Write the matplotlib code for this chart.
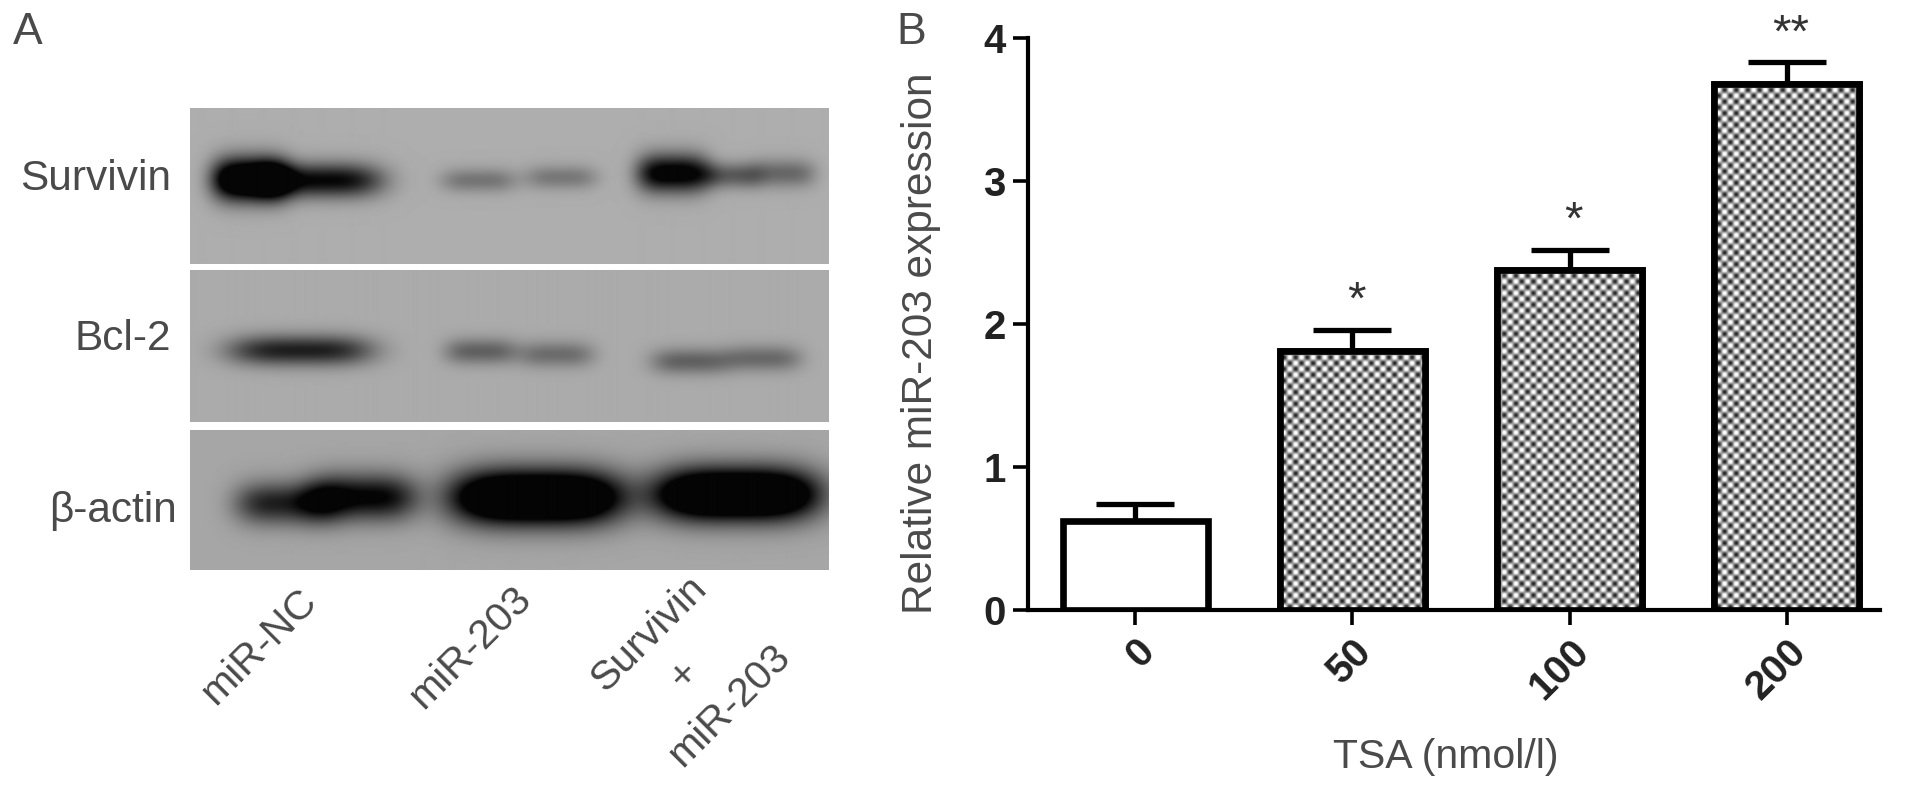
import numpy as np
import matplotlib
matplotlib.use('Agg')
import matplotlib.pyplot as plt

plt.rcParams['font.family'] = ['Liberation Sans', 'DejaVu Sans']

W, H = 1913, 791

# panel B
doses = ['0', '50', '100', '200']
expression = [0.62, 1.81, 2.38, 3.68]
errors = [0.12, 0.15, 0.14, 0.15]
stars = ['', '*', '*', '**']
y_ticks = [0, 1, 2, 3, 4]

# panel A: blots as (top, bottom, background grey)
blots = [(108, 264, 0.68), (270, 422, 0.67), (430, 570, 0.65)]
blot_names = ['Survivin', 'Bcl-2', 'β-actin']
# bands as (x centre, y centre, half width, half height, strength)
bands = [
    (250, 179, 38, 21, 1.6), (320, 180, 62, 17, 1.0),
    (478, 180, 38, 12, 0.34), (560, 177, 36, 12, 0.32),
    (672, 173, 36, 19, 1.15), (730, 175, 30, 13, 0.5), (782, 173, 32, 14, 0.42),
    (300, 350, 72, 15, 0.85),
    (480, 351, 36, 13, 0.45), (555, 354, 38, 13, 0.38),
    (690, 361, 40, 13, 0.45), (762, 358, 38, 13, 0.4),
    (285, 503, 50, 21, 0.85), (362, 497, 54, 23, 1.05),
    (536, 497, 86, 27, 1.9),
    (735, 494, 82, 26, 1.9),
]
lane_labels = [('miR-NC', 259, 647), ('miR-203', 470, 647), ('Survivin', 649, 634), ('+', 684, 675), ('miR-203', 729, 705)]
TEXT = '#4a4a4a'


def blot_image():
    x, y = np.meshgrid(np.arange(190, 828), np.arange(108, 570))
    dark = np.zeros(x.shape)
    for cx, cy, hw, hh, s in bands:
        dark += s * np.exp(-np.abs((x - cx) / hw) ** 3.5 - ((y - cy) / hh) ** 2)
    img = np.ones(x.shape)
    for top, bottom, grey in blots:
        mask = (y >= top) & (y < bottom)
        img[mask] = (grey * (1 - 0.97 * np.minimum(dark, 1)))[mask]
    return img


fig = plt.figure(figsize=(W / 100, H / 100), dpi=100)


def axes_px(left, top, right, bottom):
    return fig.add_axes([left / W, 1 - bottom / H, (right - left) / W, (bottom - top) / H])


def put(s, x, y, **kw):
    kw.setdefault('color', TEXT)
    kw.setdefault('ha', 'center')
    kw.setdefault('va', 'center')
    fig.text(x / W, 1 - y / H, s, **kw)


# panel A
ax_a = axes_px(190, 108, 828, 570)
ax_a.imshow(blot_image(), cmap='gray', vmin=0, vmax=1, aspect='auto', interpolation='bilinear')
ax_a.axis('off')

put('A', 28, 32, fontsize=32)
put('B', 911, 32, fontsize=32)
put(blot_names[0], 171, 179, fontsize=30.5, ha='right')
put(blot_names[1], 171, 339, fontsize=30.5, ha='right')
put(blot_names[2], 177, 511, fontsize=30.5, ha='right')
for s, x, y in lane_labels:
    put(s, x, y, fontsize=29.5, rotation=45, rotation_mode='anchor')

# panel B
ax = axes_px(1028, 38, 1880, 610)
pos = np.arange(len(doses))
ax.set_xlim(-0.494, 3.43)
ax.set_ylim(0, 4)

ax.errorbar(pos, expression, yerr=[[0] * 4, errors], fmt='none', ecolor='black', elinewidth=3.8, capsize=28, capthick=3.8, zorder=2)
bars = ax.bar(pos, expression, width=0.67, facecolor='white', edgecolor='black', linewidth=4.8, zorder=3)

# stipple fill, clipped to the bars
tx, ty = np.meshgrid(np.arange(852), np.arange(572))
k = 2 * np.pi / 11.6
stipple = np.clip(0.62 + 0.5 * np.cos(k * tx) * np.cos(k * ty), 0, 1)
for b in bars[1:]:
    im = ax.imshow(stipple, cmap='gray', vmin=0, vmax=1, extent=[-0.494, 3.43, 0, 4], aspect='auto', interpolation='bilinear', zorder=3.1)
    im.set_clip_path(b)
    edge = plt.Rectangle(b.get_xy(), b.get_width(), b.get_height(), fill=False, edgecolor='black', linewidth=4.8, zorder=3.2)
    ax.add_patch(edge)
ax.set_xlim(-0.494, 3.43)
ax.set_ylim(0, 4)

for p, v, e, s in zip(pos, expression, errors, stars):
    if s:
        ax.annotate(s, (p, v + e), xytext=(3, 4), textcoords='offset points', ha='center', va='bottom', fontsize=34, color='#333333')

for side in ['top', 'right']:
    ax.spines[side].set_visible(False)
for side in ['left', 'bottom']:
    ax.spines[side].set_linewidth(3)
ax.set_yticks(y_ticks)
ax.set_xticks(pos)
ax.set_xticklabels(doses)
ax.tick_params(axis='both', width=2.6, length=11, labelsize=29, pad=5)
for t in ax.get_yticklabels():
    t.set_fontweight('bold')
    t.set_color('#222222')
for t in ax.get_xticklabels():
    t.set_fontweight('bold')
    t.set_color('#222222')
    t.set_rotation(45)
    t.set_rotation_mode('anchor')
    t.set_ha('right')
    t.set_va('top')

put('Relative miR-203 expression', 921, 343, fontsize=30.5, rotation=90)
put('TSA (nmol/l)', 1446, 757, fontsize=29.5)

fig.savefig('out.png', dpi=100)
